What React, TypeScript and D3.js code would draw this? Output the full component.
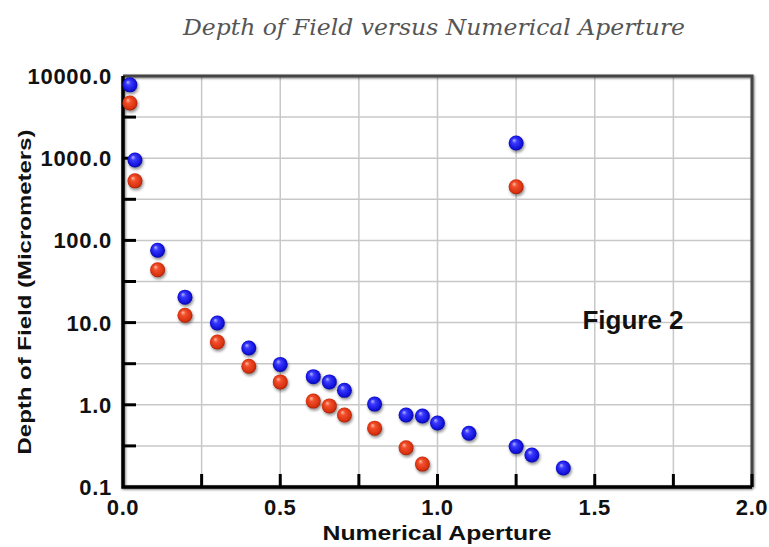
import React from "react";
import * as d3 from "d3";

// numerical aperture and depth of field (micrometers)
const blueNA = [0.022, 0.038, 0.11, 0.197, 0.3, 0.4, 0.5, 0.605, 0.656, 0.704, 0.8, 0.9, 0.952, 1.0, 1.1, 1.25, 1.25, 1.3, 1.4];
const blueDOF = [7800, 950, 76, 20.4, 9.9, 4.9, 3.1, 2.2, 1.9, 1.5, 1.02, 0.75, 0.73, 0.6, 0.45, 1530, 0.31, 0.245, 0.17];
const redNA = [0.022, 0.038, 0.11, 0.197, 0.3, 0.4, 0.5, 0.605, 0.656, 0.704, 0.8, 0.9, 0.952, 1.25];
const redDOF = [4700, 530, 44, 12.3, 5.8, 2.95, 1.9, 1.11, 0.97, 0.75, 0.52, 0.3, 0.19, 450];

const yTicks = [0.1, 1, 10, 100, 1000, 10000];
const xTicks = [0, 0.5, 1.0, 1.5, 2.0];

const W = 769;
const H = 547;
const m = { left: 123, right: 752, top: 76, bottom: 487 };

export default function App() {
  const x = d3.scaleLinear().domain([0, 2]).range([m.left, m.right]);
  const y = d3.scaleLog().domain([0.1, 10000]).range([m.bottom, m.top]);

  const xGrid = d3.range(1, 8).map((i) => i * 0.25);
  const yHalf = d3.range(1, 10).map((k) => Math.pow(10, -1 + k / 2));
  const xMinor = d3.range(1, 9).map((i) => i * 0.25);

  const blue = blueNA.map((d, i) => ({ na: d, v: blueDOF[i] }));
  const red = redNA.map((d, i) => ({ na: d, v: redDOF[i] }));

  const sans = "'Liberation Sans', Arial, sans-serif";

  return (
    <svg width={W} height={H} style={{ position: "absolute", left: 0, top: 0, background: "#fff" }}>
      <defs>
        <radialGradient id="gBlue" cx="50%" cy="50%" r="55%" fx="35%" fy="30%">
          <stop offset="0%" stopColor="#b8b8ff" />
          <stop offset="30%" stopColor="#3a3aff" />
          <stop offset="80%" stopColor="#1010d8" />
          <stop offset="100%" stopColor="#06067a" />
        </radialGradient>
        <radialGradient id="gRed" cx="50%" cy="50%" r="55%" fx="35%" fy="30%">
          <stop offset="0%" stopColor="#ffc0a8" />
          <stop offset="30%" stopColor="#f2502c" />
          <stop offset="80%" stopColor="#d8300f" />
          <stop offset="100%" stopColor="#7c1500" />
        </radialGradient>
        <filter id="shadow" x="-50%" y="-50%" width="200%" height="200%">
          <feGaussianBlur in="SourceAlpha" stdDeviation="1.5" />
          <feOffset dx="1" dy="2" result="b" />
          <feComponentTransfer>
            <feFuncA type="linear" slope="0.45" />
          </feComponentTransfer>
          <feMerge>
            <feMergeNode />
            <feMergeNode in="SourceGraphic" />
          </feMerge>
        </filter>
        <filter id="frameShadow" x="-5%" y="-5%" width="110%" height="110%">
          <feGaussianBlur in="SourceAlpha" stdDeviation="1.2" />
          <feOffset dx="1" dy="1" />
          <feComponentTransfer>
            <feFuncA type="linear" slope="0.5" />
          </feComponentTransfer>
          <feMerge>
            <feMergeNode />
            <feMergeNode in="SourceGraphic" />
          </feMerge>
        </filter>
      </defs>

      <text
        x={434}
        y={35}
        textAnchor="middle"
        fontFamily="'DejaVu Serif', serif"
        fontStyle="italic"
        fontSize={23}
        fill="#555"
        textLength={502}
        lengthAdjust="spacingAndGlyphs"
      >
        Depth of Field versus Numerical Aperture
      </text>

      {/* grid */}
      <g stroke="#c8c8c8" strokeWidth={1.5}>
        {xGrid.map((d) => (
          <line key={"gx" + d} x1={x(d)} x2={x(d)} y1={m.top} y2={m.bottom} />
        ))}
        {yHalf.map((d) => (
          <line key={"gy" + d} x1={m.left} x2={m.right} y1={y(d)} y2={y(d)} />
        ))}
      </g>

      {/* frame: top and right darker gray, left and bottom black */}
      <g filter="url(#frameShadow)" fill="none" strokeWidth={3}>
        <polyline points={`${m.left},${m.top} ${m.right},${m.top} ${m.right},${m.bottom}`} stroke="#444" />
        <polyline points={`${m.left},${m.top} ${m.left},${m.bottom} ${m.right},${m.bottom}`} stroke="#000" strokeWidth={3.5} />
      </g>

      {/* ticks */}
      <g stroke="#000" strokeWidth={3}>
        {yHalf.map((d) => (
          <line key={"ty" + d} x1={m.left} x2={m.left + 13} y1={y(d)} y2={y(d)} />
        ))}
        {xMinor.map((d) => (
          <line key={"tx" + d} x1={x(d)} x2={x(d)} y1={m.bottom} y2={m.bottom - 13} />
        ))}
      </g>

      {/* tick labels */}
      <g fontFamily={sans} fontWeight="bold" fontSize={22} fill="#111">
        {yTicks.map((d) => (
          <text key={"ly" + d} x={112} y={y(d) + 8} textAnchor="end" letterSpacing={0.7}>
            {d.toFixed(1)}
          </text>
        ))}
        {xTicks.map((d) => (
          <text key={"lx" + d} x={x(d)} y={515} textAnchor="middle" letterSpacing={0.6}>
            {d.toFixed(1)}
          </text>
        ))}
      </g>

      <text
        x={437}
        y={540}
        textAnchor="middle"
        fontFamily={sans}
        fontWeight="bold"
        fontSize={21}
        fill="#111"
        textLength={229}
        lengthAdjust="spacingAndGlyphs"
      >
        Numerical Aperture
      </text>
      <text
        transform={`translate(31,292) rotate(-90)`}
        textAnchor="middle"
        fontFamily={sans}
        fontWeight="bold"
        fontSize={19}
        fill="#111"
        textLength={325}
        lengthAdjust="spacingAndGlyphs"
      >
        Depth of Field (Micrometers)
      </text>

      <text x={633} y={329} textAnchor="middle" fontFamily={sans} fontWeight="bold" fontSize={26} fill="#111">
        Figure 2
      </text>

      {/* points */}
      <g filter="url(#shadow)">
        {blue.map((d, i) => (
          <circle key={"b" + i} cx={x(d.na)} cy={y(d.v)} r={7.5} fill="url(#gBlue)" />
        ))}
        {red.map((d, i) => (
          <circle key={"r" + i} cx={x(d.na)} cy={y(d.v)} r={7.5} fill="url(#gRed)" />
        ))}
      </g>
    </svg>
  );
}
